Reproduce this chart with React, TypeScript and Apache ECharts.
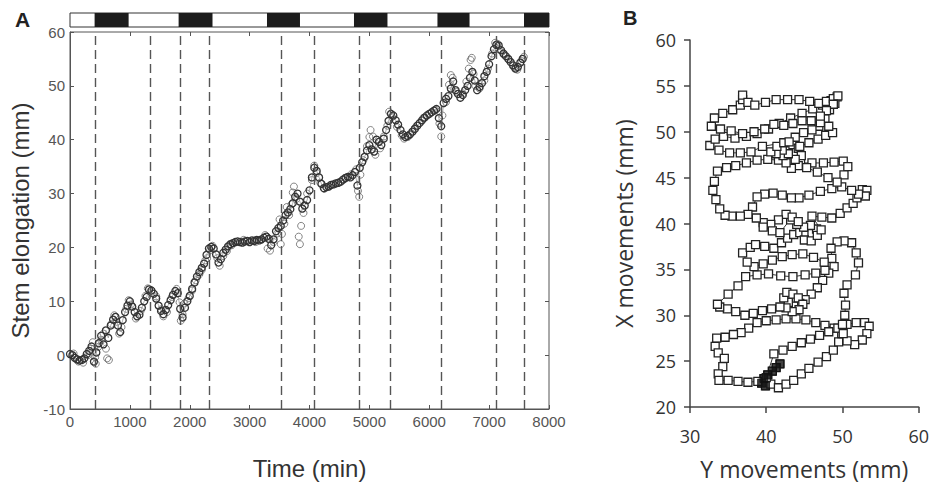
import React, { useEffect, useRef } from "react";
import * as echarts from "echarts";

// ---------- Panel A: stem elongation over time ----------
const elongTime = [
  0, 40, 80, 120, 160, 200, 240, 280, 320, 360,
  400, 440, 480, 520, 560, 600, 640, 680, 720, 760,
  800, 840, 880, 920, 960, 1000, 1040, 1080, 1120, 1160,
  1200, 1240, 1280, 1320, 1360, 1400, 1440, 1480, 1520, 1560,
  1600, 1640, 1680, 1720, 1760, 1800, 1840, 1880, 1920, 1960,
  2000, 2040, 2080, 2120, 2160, 2200, 2240, 2280, 2320, 2360,
  2400, 2440, 2480, 2520, 2560, 2600, 2640, 2680, 2720, 2760,
  2800, 2840, 2880, 2920, 2960, 3000, 3040, 3080, 3120, 3160,
  3200, 3240, 3280, 3320, 3360, 3400, 3440, 3480, 3520, 3560,
  3600, 3640, 3680, 3720, 3760, 3800, 3840, 3880, 3920, 3960,
  4000, 4040, 4080, 4120, 4160, 4200, 4240, 4280, 4320, 4360,
  4400, 4440, 4480, 4520, 4560, 4600, 4640, 4680, 4720, 4760,
  4800, 4840, 4880, 4920, 4960, 5000, 5040, 5080, 5120, 5160,
  5200, 5240, 5280, 5320, 5360, 5400, 5440, 5480, 5520, 5560,
  5600, 5640, 5680, 5720, 5760, 5800, 5840, 5880, 5920, 5960,
  6000, 6040, 6080, 6120, 6160, 6200, 6240, 6280, 6320, 6360,
  6400, 6440, 6480, 6520, 6560, 6600, 6640, 6680, 6720, 6760,
  6800, 6840, 6880, 6920, 6960, 7000, 7040, 7080, 7120, 7160,
  7200, 7240, 7280, 7320, 7360, 7400, 7440, 7480, 7520, 7560,
];
const elongValue = [
  0.2, 0, -0.5, -0.8, -1.0, -0.9, -0.6, 0.2, 0.8, 1.6,
  -1.2, 0.5, 2.2, 3.6, 2.0, 4.6, 3.2, 5.5, 6.6, 7.1,
  5.5, 4.3, 6.5, 8.0, 9.2, 10.0, 9.0, 8.0, 7.2, 7.5,
  8.8, 10.0, 10.8, 12.2, 12.0, 11.4, 10.5, 9.2, 8.2, 7.6,
  8.4, 9.3, 10.2, 11.2, 11.9, 11.5, 8.6, 7.0, 8.8, 10.0,
  11.0, 12.3, 13.5, 14.6, 15.4, 16.2, 17.0, 18.6, 19.8, 20.1,
  19.8, 18.7, 17.2, 17.8, 19.0, 19.6, 20.2, 20.6, 20.8, 21.0,
  21.1, 21.0, 20.9, 21.1, 21.2, 21.0, 21.3, 21.2, 21.4, 21.3,
  21.5, 21.8, 22.0, 21.6, 20.4, 21.5, 23.0, 23.6, 24.0, 25.0,
  26.0, 26.5, 27.1, 28.2, 29.4, 30.0, 28.5, 27.2, 27.8, 28.8,
  30.6, 33.0, 34.8, 34.2, 33.0, 31.8, 31.0, 31.2, 31.3, 31.6,
  31.7, 31.9, 32.0, 32.2, 32.6, 32.9, 33.1, 33.0, 33.4, 34.0,
  31.5, 34.8, 35.8, 36.8, 38.0, 39.0, 38.2, 37.8, 40.0, 39.6,
  39.0, 40.2, 41.8, 43.5, 44.8, 44.5, 43.6, 42.8, 41.8, 41.0,
  40.5, 40.7, 41.0, 41.5, 42.0, 42.6, 43.1, 43.6, 44.1, 44.5,
  44.8, 45.1, 45.4, 45.7, 44.0, 42.5, 46.8, 47.6, 48.1, 49.5,
  50.8, 49.2, 48.5, 47.8, 48.3, 49.2, 50.0, 51.5, 52.6, 51.0,
  49.2, 49.8, 50.5, 51.8, 52.6, 54.0, 55.5, 56.8, 57.6, 57.5,
  56.6, 56.0, 55.5, 55.0, 54.4, 53.8, 53.2, 53.5, 54.3, 55.0,
];
const spreadTime = [
  60, 140, 220, 300, 350, 380, 420, 430, 470, 520, 560, 600, 620, 650, 690, 740, 780, 820, 860, 940,
  980, 1020, 1100, 1180, 1260, 1300, 1360, 1440, 1520, 1560, 1620, 1700, 1780, 1830, 1850, 1880, 1910, 1980, 2040, 2100,
  2160, 2200, 2260, 2290, 2340, 2380, 2460, 2500, 2560, 2620, 2700, 2900, 3100, 3260, 3300, 3340, 3400, 3460, 3500, 3520,
  3540, 3580, 3620, 3660, 3700, 3720, 3740, 3780, 3820, 3840, 3860, 3900, 3960, 4040, 4080, 4120, 4180, 4250, 4600, 4700,
  4780, 4810, 4830, 4850, 4900, 4960, 5000, 5020, 5060, 5100, 5180, 5240, 5300, 5330, 5380, 5460, 5540, 5580, 5640, 5760,
  5900, 6100, 6170, 6200, 6220, 6280, 6330, 6360, 6390, 6450, 6560, 6620, 6660, 6690, 6710, 6740, 6770, 6840, 6920, 6980,
  7050, 7100, 7140, 7160, 7250, 7330, 7420, 7470, 7540, 7580,
];
const spreadValue = [
  0.3, -1.2, -1.4, 0.0, 1.2, 2.4, -0.4, -1.6, 1.5, 2.8, 4.0, 1.2, -0.6, -0.9, 5.8, 7.4, 6.2, 4.0, 5.2, 8.6,
  10.2, 9.4, 6.8, 8.2, 11.0, 12.4, 12.0, 10.9, 8.5, 7.2, 8.0, 10.8, 12.3, 9.8, 6.4, 7.6, 9.6, 10.6, 12.0, 13.9,
  15.0, 15.8, 17.6, 18.0, 19.5, 20.3, 18.0, 16.6, 18.4, 19.3, 20.4, 21.4, 21.0, 22.3, 19.8, 19.4, 21.0, 22.6, 25.2, 20.6,
  22.5, 24.4, 27.5, 26.0, 28.0, 30.2, 31.3, 29.0, 22.0, 20.6, 24.0, 26.4, 30.0, 32.5, 35.2, 33.8, 32.0, 30.9, 32.8, 33.6,
  34.5, 30.5, 29.4, 33.5, 36.2, 38.8, 40.5, 41.8, 40.6, 37.2, 38.4, 40.6, 42.6, 45.2, 44.2, 42.4, 40.8, 40.2, 40.5, 42.2,
  44.0, 45.6, 43.0, 40.6, 44.5, 47.0, 50.2, 52.0, 51.5, 48.9, 48.6, 50.8, 53.2, 54.8, 55.2, 52.2, 50.0, 49.5, 51.0, 53.2,
  56.0, 58.0, 57.8, 56.8, 55.8, 54.8, 53.4, 53.0, 54.6, 55.4,
];
const transitionTimes = [417, 1336, 1837, 2321, 3524, 4075, 4826, 5344, 6196, 7114, 7582];
const darkStart = [411, 1814, 3290, 4743, 6137, 7582];
const darkEnd = [979, 2380, 3841, 5302, 6673, 8000];

// ---------- Panel B: nutation path (Y movement, X movement) ----------
const nutationPath = [
  [41.8, 24.7], [41.3, 24.3], [40.8, 23.9], [40.2, 23.5], [39.7, 23.1], [39.4, 22.6], [39.9, 22.3], [40.6, 22.5],
  [41.6, 22.1], [42.6, 22.5], [43.6, 22.9], [44.6, 23.6], [45.6, 24.2], [46.8, 24.9], [47.9, 25.5], [48.8, 26.2], [49.5, 27.1], [49.9, 28.0],
  [48.9, 28.6], [47.7, 28.9], [46.5, 29.2], [45.2, 29.5], [43.9, 29.6], [42.6, 29.6], [41.3, 29.5], [40.0, 29.4], [38.8, 29.2], [37.7, 28.6],
  [36.7, 28.1], [35.7, 27.9], [34.6, 27.6], [33.5, 27.5], [33.3, 26.6], [33.7, 25.9], [34.5, 25.3], [34.3, 24.4], [33.7, 23.6], [33.8, 22.9],
  [35.0, 22.9], [36.3, 22.8], [37.6, 22.7], [38.9, 22.8], [40.0, 23.2],
  [41.0, 25.8], [42.2, 26.2], [43.4, 26.6], [44.6, 27.0], [45.8, 27.4], [47.0, 27.8], [48.2, 28.2], [49.4, 28.6], [50.6, 29.0], [51.8, 29.2],
  [52.9, 29.2], [53.5, 28.8], [53.2, 28.0], [52.6, 27.3], [51.6, 26.8], [50.6, 27.2], [50.1, 28.0], [50.0, 29.0], [50.3, 30.0], [50.4, 31.1],
  [50.2, 32.4], [50.6, 33.3], [51.7, 34.4], [52.1, 35.7], [51.8, 36.8], [51.2, 37.9], [50.2, 38.1], [49.3, 38.0], [48.5, 37.3], [48.6, 36.2],
  [48.9, 35.3], [48.2, 34.6], [47.4, 33.8], [46.7, 33.0], [45.9, 32.3],
  [45.1, 31.7], [44.4, 31.3], [43.6, 31.0], [42.9, 31.4], [42.3, 31.9], [42.7, 32.5], [43.5, 32.3], [44.2, 31.9], [44.8, 31.2], [44.3, 30.6],
  [43.4, 30.4], [42.6, 30.8], [41.8, 30.9],
  [40.7, 30.7], [39.5, 30.5], [38.3, 30.2], [37.2, 30.0], [36.0, 30.4], [34.9, 30.7], [33.9, 30.9], [33.6, 31.2], [35.0, 32.3], [36.3, 33.2],
  [37.3, 34.2],
  [38.8, 34.4], [40.3, 34.5], [41.9, 34.3], [43.5, 34.2], [45.1, 34.4], [46.5, 34.6], [47.7, 34.9], [47.6, 35.8], [46.2, 36.3], [44.8, 36.7],
  [43.4, 36.6], [42.1, 36.4], [40.8, 36.0], [39.6, 35.6], [38.4, 35.3], [37.5, 35.8], [36.9, 36.8], [37.9, 37.4], [38.6, 37.7], [39.8, 37.5],
  [41.0, 37.3],
  [42.0, 37.9], [42.8, 38.4], [43.6, 38.8], [44.4, 39.0], [45.2, 38.7], [46.0, 38.9], [46.6, 39.4], [45.8, 39.8], [44.9, 39.6], [44.0, 39.9],
  [43.2, 40.4], [42.6, 41.0], [41.6, 40.4], [40.6, 39.9], [39.6, 40.1], [38.7, 40.6], [39.6, 39.6], [40.8, 39.2], [41.8, 39.0], [43.4, 40.7],
  [44.2, 40.2], [45.0, 38.2], [45.9, 38.1], [46.7, 38.7], [47.2, 39.3],
  [46.0, 40.8], [47.3, 40.7], [48.6, 40.6], [49.7, 41.1], [50.6, 41.7], [51.4, 42.2], [51.9, 42.8], [52.6, 43.7], [53.2, 43.6], [53.0, 43.0],
  [52.1, 43.2], [51.2, 43.6], [49.9, 44.0], [48.6, 43.8], [47.1, 43.5], [45.6, 43.1], [44.3, 42.8], [43.3, 42.8], [42.1, 43.1], [40.9, 43.3],
  [39.8, 43.2], [38.8, 42.9], [38.2, 41.8], [37.6, 41.0], [36.6, 40.8], [35.5, 40.8], [34.6, 40.9], [33.9, 41.6], [33.4, 42.6], [33.0, 43.6],
  [33.2, 44.6], [33.6, 45.7], [34.8, 46.1], [36.0, 46.3], [37.4, 46.6], [38.8, 46.9], [40.2, 47.0], [41.6, 46.9], [43.0, 46.7], [44.5, 46.6],
  [46.0, 46.6], [47.5, 46.6], [48.9, 46.7], [50.1, 46.8], [50.7, 46.2], [50.2, 45.3], [49.3, 44.5], [48.1, 45.0], [46.7, 45.6], [45.3, 46.1],
  [44.2, 46.3], [43.3, 46.0], [42.6, 46.6], [42.2, 47.4], [42.8, 48.1], [43.5, 48.6], [44.2, 48.2], [44.6, 47.4], [43.8, 47.0], [42.9, 47.6],
  [42.1, 48.0], [41.3, 47.6], [40.6, 47.8], [41.4, 48.4], [42.3, 48.8],
  [39.5, 48.4], [38.0, 47.8], [36.6, 47.7], [35.2, 47.7], [33.8, 48.0], [32.6, 48.5], [33.3, 49.2], [34.4, 49.5], [35.9, 49.3], [37.4, 49.5],
  [38.8, 49.8], [40.3, 50.3], [41.7, 50.9], [43.2, 51.5], [44.7, 52.0], [46.1, 52.5], [47.4, 52.9], [48.5, 53.4], [49.3, 53.8], [49.0, 53.1],
  [48.3, 52.4], [47.7, 51.4], [46.9, 50.6], [46.0, 50.2], [44.9, 49.9], [43.8, 49.4], [43.0, 48.9],
  [44.4, 48.4], [45.6, 48.8], [46.8, 49.2], [47.8, 49.6], [48.7, 49.9], [48.2, 50.6], [47.1, 51.0], [45.9, 51.2], [44.7, 51.2], [43.5, 50.9],
  [42.3, 50.7], [41.0, 50.8], [39.8, 50.3], [38.4, 50.0], [36.9, 49.8], [35.4, 50.1], [34.0, 50.3], [32.8, 50.6], [33.2, 51.5], [34.3, 52.0],
  [35.6, 52.4], [36.6, 52.9], [36.9, 53.5], [36.9, 54.0], [37.6, 53.2], [38.5, 52.9], [39.9, 53.2], [41.3, 53.5], [42.8, 53.5], [44.3, 53.5],
  [45.7, 53.3], [46.9, 53.1], [47.9, 53.3], [48.8, 53.6], [49.4, 53.9], [48.8, 53.0], [47.9, 52.3], [47.1, 51.7],
];
const startPointCount = 7;

const tickFont = "'Liberation Sans Narrow', 'Liberation Sans', Arial, sans-serif";
const nameFont = "'Liberation Sans', Arial, sans-serif";
const bFont = "'Open Sans', 'DejaVu Sans', sans-serif";
const plain = (v: number) => String(v);

export default function App() {
  const ref = useRef<HTMLDivElement>(null);
  useEffect(() => {
    const chart = echarts.init(ref.current as HTMLDivElement, null, { renderer: "svg" });
    const mainData = elongTime.map((t, i) => [t, elongValue[i]]);
    const spreadData = spreadTime.map((t, i) => [t, spreadValue[i]]);
    const darkData = darkStart.map((s, i) => [s, darkEnd[i]]);

    chart.setOption({
      animation: false,
      backgroundColor: "#ffffff",
      grid: [
        { left: 70, top: 32, width: 479, height: 377, show: true, borderColor: "#555", borderWidth: 1, backgroundColor: "transparent" },
        { left: 70, top: 13, width: 479, height: 14, show: true, borderColor: "#333", borderWidth: 1, backgroundColor: "#fff" },
        { left: 690, top: 40, width: 231, height: 367 },
      ],
      graphic: [
        { type: "text", left: 15, top: 9, style: { text: "A", font: "bold 21px 'Liberation Sans', Arial", fill: "#222" } },
        { type: "text", left: 623, top: 8, style: { text: "B", font: "bold 20px 'Liberation Sans', Arial", fill: "#222" } },
      ],
      xAxis: [
        {
          gridIndex: 0, type: "value", min: 0, max: 8000, interval: 1000, position: "bottom",
          axisLine: { show: true, onZero: false, lineStyle: { color: "#555" } },
          axisTick: { inside: true, length: 4, lineStyle: { color: "#555" } },
          axisLabel: { color: "#555", fontSize: 15, fontFamily: tickFont, margin: 5, formatter: plain },
          splitLine: { show: false },
          name: "Time (min)", nameLocation: "middle", nameGap: 47,
          nameTextStyle: { fontSize: 24, color: "#333", fontFamily: nameFont },
        },
        {
          gridIndex: 0, type: "value", min: 0, max: 8000, interval: 1000, position: "top",
          axisLine: { show: false, onZero: false },
          axisTick: { inside: true, length: 4, lineStyle: { color: "#555" } },
          axisLabel: { show: false }, splitLine: { show: false },
        },
        { gridIndex: 1, type: "value", min: 0, max: 8000, show: false },
        {
          gridIndex: 2, type: "value", min: 30, max: 60, interval: 10,
          axisLine: { show: true, onZero: false, lineStyle: { color: "#444", width: 1.5 } },
          axisTick: { show: true, length: 6, lineStyle: { color: "#444", width: 1.5 } },
          axisLabel: { color: "#333", fontSize: 18, fontFamily: bFont, margin: 20 },
          splitLine: { show: false },
          name: "Y movements (mm)", nameLocation: "middle", nameGap: 50,
          nameTextStyle: { fontSize: 23, color: "#333", fontFamily: bFont },
        },
      ],
      yAxis: [
        {
          gridIndex: 0, type: "value", min: -10, max: 60, interval: 10, position: "left",
          axisLine: { show: true, onZero: false, lineStyle: { color: "#555" } },
          axisTick: { inside: true, length: 4, lineStyle: { color: "#555" } },
          axisLabel: { color: "#555", fontSize: 15, fontFamily: tickFont, margin: 5 },
          splitLine: { show: false },
          name: "Stem elongation (mm)", nameLocation: "middle", nameGap: 32,
          nameTextStyle: { fontSize: 24, color: "#333", fontFamily: nameFont },
        },
        {
          gridIndex: 0, type: "value", min: -10, max: 60, interval: 10, position: "right",
          axisLine: { show: false, onZero: false },
          axisTick: { inside: true, length: 4, lineStyle: { color: "#555" } },
          axisLabel: { show: false }, splitLine: { show: false },
        },
        { gridIndex: 1, type: "value", min: 0, max: 1, show: false },
        {
          gridIndex: 2, type: "value", min: 20, max: 60, interval: 5,
          axisLine: { show: true, onZero: false, lineStyle: { color: "#444", width: 1.5 } },
          axisTick: { show: true, length: 6, lineStyle: { color: "#444", width: 1.5 } },
          axisLabel: { color: "#333", fontSize: 18, fontFamily: bFont, margin: 14 },
          splitLine: { show: false },
          name: "X movements (mm)", nameLocation: "middle", nameGap: 55,
          nameTextStyle: { fontSize: 23, color: "#333", fontFamily: bFont },
        },
      ],
      series: [
        {
          type: "line", xAxisIndex: 0, yAxisIndex: 0, data: mainData,
          symbol: "circle", symbolSize: 7, showSymbol: true,
          lineStyle: { color: "#999", width: 0.8 },
          itemStyle: { color: "rgba(255,255,255,0)", borderColor: "#333", borderWidth: 1.3 },
          markLine: {
            silent: true, symbol: ["none", "none"], label: { show: false },
            lineStyle: { type: [9, 5], color: "#555", width: 1.4 },
            data: transitionTimes.map((t) => ({ xAxis: t })),
          },
        },
        {
          type: "scatter", xAxisIndex: 0, yAxisIndex: 0, data: spreadData,
          symbol: "circle", symbolSize: 7,
          itemStyle: { color: "rgba(255,255,255,0)", borderColor: "#666", borderWidth: 1 },
        },
        {
          type: "custom", xAxisIndex: 2, yAxisIndex: 2, data: darkData,
          renderItem: (params: any, api: any) => {
            const a = api.coord([api.value(0), 1]);
            const b = api.coord([api.value(1), 0]);
            return { type: "rect", shape: { x: a[0], y: a[1], width: b[0] - a[0], height: b[1] - a[1] }, style: { fill: "#1c1c1c" } };
          },
        },
        {
          type: "line", xAxisIndex: 3, yAxisIndex: 3, data: nutationPath,
          symbol: "rect", symbolSize: 8, showSymbol: true,
          lineStyle: { color: "#333", width: 1 },
          itemStyle: { color: "#fff", borderColor: "#222", borderWidth: 1.3 },
        },
        {
          type: "scatter", xAxisIndex: 3, yAxisIndex: 3, data: nutationPath.slice(0, startPointCount),
          symbol: "rect", symbolSize: 8, z: 10,
          itemStyle: { color: "#111", borderColor: "#111", borderWidth: 1 },
        },
      ],
    });
    return () => chart.dispose();
  }, []);
  return <div ref={ref} style={{ position: "fixed", left: 0, top: 0, width: 932, height: 488, background: "#fff" }} />;
}
